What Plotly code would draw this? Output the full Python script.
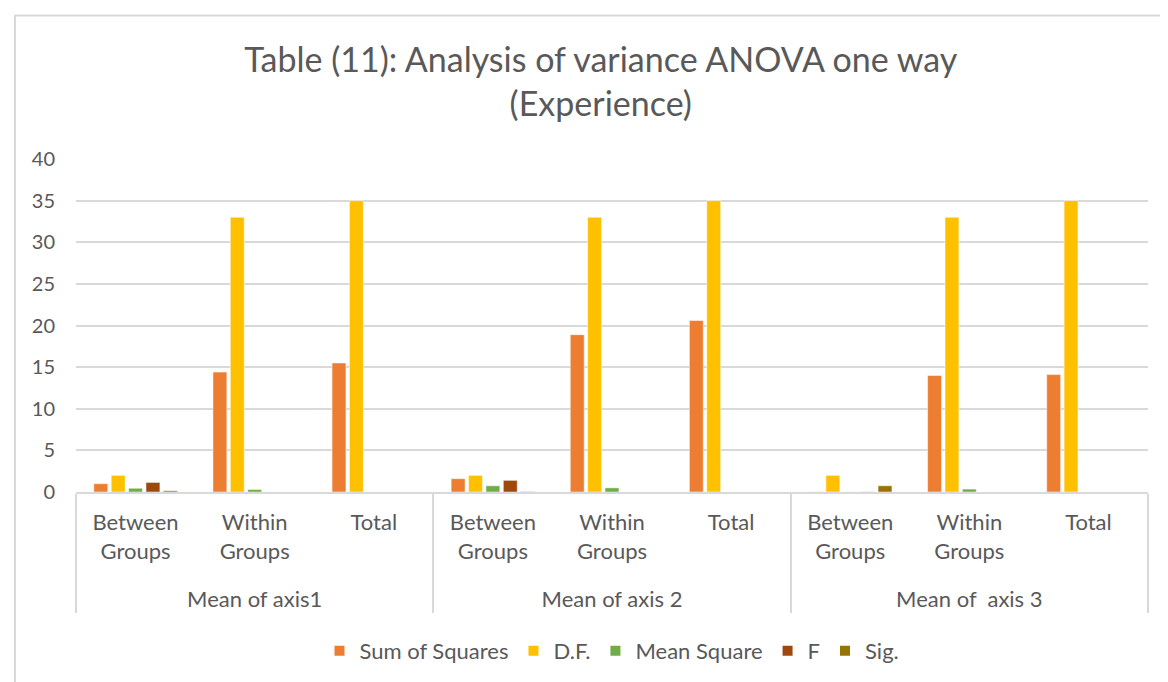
import plotly.graph_objects as go

# x axis: two-level categories (axis / source of variation)
axis_names = ["<br>Mean of axis1"] * 3 + ["<br>Mean of axis 2"] * 3 + ["<br>Mean of  axis 3"] * 3
sources = ["Between<br>Groups", "Within<br>Groups", "Total"] * 3

sum_of_squares = [1.0, 14.4, 15.5, 1.6, 18.9, 20.6, 0.02, 14.0, 14.1]
df_values = [2, 33, 35, 2, 33, 35, 2, 33, 35]
mean_square = [0.45, 0.3, 0, 0.75, 0.5, 0, 0.01, 0.35, 0]
f_values = [1.15, 0, 0, 1.4, 0, 0, 0.02, 0, 0]
sig_values = [0.15, 0, 0, 0.05, 0, 0, 0.75, 0, 0]

series = [
    ("Sum of Squares", sum_of_squares, "#ED7D31"),
    ("D.F.", df_values, "#FFC000"),
    ("Mean Square", mean_square, "#70AD47"),
    ("F", f_values, "#9E480E"),
    ("Sig.", sig_values, "#997300"),
]

FONT = "Lato, Open Sans, sans-serif"
GREY = "#595959"

fig = go.Figure()
for name, vals, color in series:
    fig.add_trace(go.Bar(
        x=[axis_names, sources],
        y=vals,
        name=name,
        marker_color=color,
    ))

# page body has an 8px margin, so the figure is a bit smaller than the window
fig.update_layout(
    width=1160,
    height=674,
    barmode="group",
    bargap=0.27,
    bargroupgap=0.2,
    template="plotly_white",
    paper_bgcolor="#ffffff",
    plot_bgcolor="#ffffff",
    font={'family': FONT, 'color': GREY, 'size': 22},
    title={
        'text': "Table (11): Analysis of variance ANOVA one way<br>(Experience)",
        'x': 0.511,
        'xanchor': "center",
        'y': 0.905,
        'yanchor': "middle",
        'font': {'size': 34, 'color': GREY, 'family': FONT},
    },
    margin={'t': 151, 'l': 68, 'r': 20, 'b': 189},
    legend={
        'orientation': "h",
        'x': 0.5,
        'xanchor': "center",
        'y': -0.473,
        'yanchor': "middle",
        'font': {'size': 22, 'color': GREY},
        'itemsizing': "constant",
    },
    showlegend=True,
)

fig.update_xaxes(
    type="multicategory",
    showline=True,
    linecolor="#d9d9d9",
    linewidth=2,
    showdividers=True,
    dividercolor="#d9d9d9",
    dividerwidth=2,
    tickfont={'size': 22, 'color': GREY},
    ticklabelstandoff=10,
    showgrid=False,
)
fig.update_yaxes(
    range=[0, 40],
    dtick=5,
    showgrid=True,
    gridcolor="#d9d9d9",
    gridwidth=2,
    zeroline=False,
    tickfont={'size': 20, 'color': GREY},
    ticks="",
    ticklabelstandoff=20,
)

# chart border like the spreadsheet chart frame
fig.add_shape(
    type="rect", xref="paper", yref="paper",
    x0=-0.0569, x1=1.0168, y0=-1, y1=1.431,
    line={'color': "#d9d9d9", 'width': 2},
)

fig.write_html("out.html")
